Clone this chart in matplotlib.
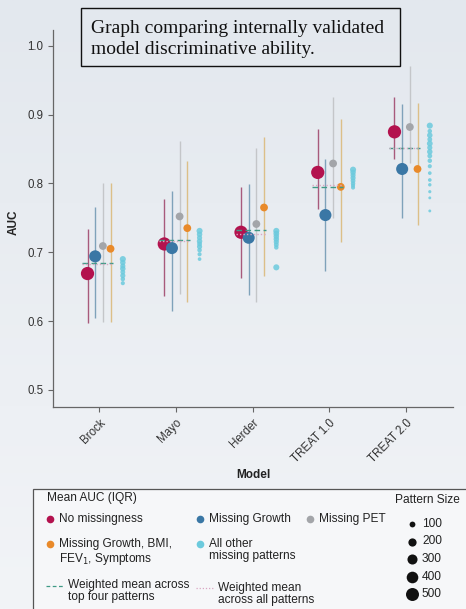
import numpy as np
import matplotlib.pyplot as plt
from matplotlib.patches import Rectangle
from matplotlib.lines import Line2D
from matplotlib.colors import LinearSegmentedColormap

plt.rcParams['font.family'] = ['Liberation Sans', 'DejaVu Sans']

models = ["Brock", "Mayo", "Herder", "TREAT 1.0", "TREAT 2.0"]

# mean AUC and IQR per pattern
no_miss = [0.669, 0.712, 0.729, 0.816, 0.875]
no_miss_lo = [0.597, 0.637, 0.662, 0.763, 0.835]
no_miss_hi = [0.734, 0.778, 0.795, 0.879, 0.925]

growth = [0.694, 0.706, 0.721, 0.754, 0.821]
growth_lo = [0.604, 0.615, 0.638, 0.672, 0.750]
growth_hi = [0.766, 0.789, 0.799, 0.835, 0.915]

pet = [0.709, 0.752, 0.741, 0.829, 0.882]
pet_lo = [0.599, 0.639, 0.628, 0.750, 0.829]
pet_hi = [0.800, 0.862, 0.851, 0.925, 0.970]

gbfs = [0.705, 0.735, 0.765, 0.795, 0.821]
gbfs_lo = [0.599, 0.628, 0.666, 0.715, 0.740]
gbfs_hi = [0.800, 0.833, 0.867, 0.893, 0.917]

# all other missing patterns (small dots)
other = [
    [0.690, 0.685, 0.680, 0.676, 0.671, 0.666, 0.661, 0.655],
    [0.731, 0.726, 0.721, 0.716, 0.712, 0.708, 0.703, 0.697, 0.690],
    [0.731, 0.727, 0.723, 0.719, 0.715, 0.711, 0.707, 0.678],
    [0.820, 0.816, 0.812, 0.808, 0.804, 0.800, 0.797, 0.794],
    [0.884, 0.876, 0.870, 0.864, 0.858, 0.852, 0.846, 0.840, 0.833, 0.825,
     0.815, 0.805, 0.798, 0.788, 0.779, 0.760],
]
other_n = [
    [110, 90, 80, 90, 70, 80, 60, 50],
    [110, 90, 80, 90, 70, 80, 60, 50, 40],
    [110, 100, 90, 90, 80, 70, 60, 110],
    [110, 90, 80, 80, 70, 60, 50, 50],
    [110, 60, 90, 70, 100, 80, 90, 70, 60, 50, 40, 40, 35, 30, 25, 25],
]

n_no_miss = 520
n_growth = 430
n_pet = 180
n_gbfs = 180

wmean_top4 = [0.685, 0.718, 0.732, 0.795, 0.851]
wmean_all = [0.683, 0.717, 0.727, 0.798, 0.851]

size_legend = [100, 200, 300, 400, 500]

c_red = '#b3124e'
c_blue = '#3a77a5'
c_gray = '#a3a5a9'
c_orange = '#e98a2a'
c_cyan = '#6ccadd'

def sc(n):
    return np.array(n) * 0.175

fig = plt.figure(figsize=(4.66, 6.09), dpi=100)

# background gradient
bg = fig.add_axes([0, 0, 1, 1], zorder=-10)
grad = np.linspace(0, 1, 256).reshape(-1, 1)
cmap = LinearSegmentedColormap.from_list('bg', ['#e3e8ee', '#f2f4f7'])
bg.imshow(grad, aspect='auto', cmap=cmap, extent=[0, 1, 0, 1])
bg.axis('off')

ax = fig.add_axes([0.1137, 0.3317, 0.858, 0.619])
ax.patch.set_alpha(0)
x = np.arange(len(models))

series = [
    (no_miss, no_miss_lo, no_miss_hi, n_no_miss, c_red, '#a85a7c', -0.15),
    (growth, growth_lo, growth_hi, n_growth, c_blue, '#7fa2ba', -0.05),
    (pet, pet_lo, pet_hi, n_pet, c_gray, '#c4c6c9', 0.05),
    (gbfs, gbfs_lo, gbfs_hi, n_gbfs, c_orange, '#dcbf88', 0.15),
]
for mean, lo, hi, n, col, wcol, off in series:
    ax.vlines(x + off, lo, hi, color=wcol, lw=1.0, zorder=2)
for mean, lo, hi, n, col, wcol, off in series:
    ax.scatter(x + off, mean, s=sc(n), color=col, edgecolors='none', zorder=4)

for i in range(len(models)):
    ax.scatter(np.full(len(other[i]), x[i] + 0.31), other[i], s=sc(other_n[i]),
               color=c_cyan, edgecolors='none', alpha=0.85, zorder=3)
    ax.hlines(wmean_top4[i], x[i] - 0.22, x[i] + 0.18, color='#3f9a86',
              lw=1.0, linestyles=(0, (4, 2.5)), zorder=5)
    ax.hlines(wmean_all[i], x[i] - 0.22, x[i] + 0.18, color='#d9a6c2',
              lw=1.0, linestyles=(0, (1, 1.5)), zorder=5)

ax.set_xlim(-0.6, 4.61)
ax.set_ylim(0.475, 1.023)
ax.set_yticks([0.5, 0.6, 0.7, 0.8, 0.9, 1.0])
ax.set_yticklabels(['0.5', '0.6', '0.7', '0.8', '0.9', '1.0'])
ax.set_xticks(x)
ax.set_xticklabels(models, rotation=45, ha='right', rotation_mode='anchor')
for s in ['top', 'right']:
    ax.spines[s].set_visible(False)
for s in ['left', 'bottom']:
    ax.spines[s].set_color('#666666')
    ax.spines[s].set_linewidth(0.9)
ax.tick_params(colors='#666666', labelcolor='#333333', labelsize=8.3, length=3.5, width=0.8)
ax.set_ylabel('AUC', fontsize=8.5, fontweight='bold', color='#222222')
ax.yaxis.set_label_coords(-0.082, 0.49)
ax.set_xlabel('Model', fontsize=8.5, fontweight='bold', color='#222222', labelpad=3)

# title box
fig.patches.append(Rectangle((81 / 466, 1 - 66 / 609), 319 / 466, 58 / 609,
                             transform=fig.transFigure, facecolor='none',
                             edgecolor='#111111', lw=1.0))
fig.text(91 / 466, 1 - 39 / 609, 'Graph comparing internally validated\nmodel discriminative ability.',
         family='Liberation Serif', fontsize=14, color='#111111', va='center', linespacing=1.3)

# legend box
fig.patches.append(Rectangle((33 / 466, -0.01), 0.99, 1 - 489 / 609 + 0.01,
                             transform=fig.transFigure, facecolor='#f6f7f9',
                             edgecolor='#555555', lw=0.9, zorder=1))

def fx(px):
    return px / 466

def fy(py):
    return 1 - py / 609

fs = 8.6
fig.text(fx(47), fy(498), 'Mean AUC (IQR)', fontsize=fs, color='#222222', va='center')
items = [
    (50, 519, c_red, 'No missingness'),
    (200, 519, c_blue, 'Missing Growth'),
    (310, 519, c_gray, 'Missing PET'),
    (50, 544, c_orange, 'Missing Growth, BMI,\nFEV$_1$, Symptoms'),
    (200, 544, c_cyan, 'All other\nmissing patterns'),
]
for px, py, col, lab in items:
    fig.add_artist(Line2D([fx(px)], [fy(py)], marker='o', ms=5.5, color=col,
                          markeredgewidth=0, transform=fig.transFigure))
    fig.text(fx(px + 9), fy(py - 6), lab, fontsize=fs, color='#222222', va='top', linespacing=1.05)

fig.add_artist(Line2D([fx(46), fx(64)], [fy(586), fy(586)], color='#3f9a86', lw=0.9,
                      linestyle=(0, (3, 2)), transform=fig.transFigure))
fig.text(fx(68), fy(579), 'Weighted mean across\ntop four patterns', fontsize=fs,
         color='#222222', va='top', linespacing=1.05)
fig.add_artist(Line2D([fx(196), fx(213)], [fy(588), fy(588)], color='#d9a6c2', lw=0.9,
                      linestyle=(0, (1, 1.5)), transform=fig.transFigure))
fig.text(fx(218), fy(582), 'Weighted mean\nacross all patterns', fontsize=fs,
         color='#222222', va='top', linespacing=1.05)

fig.text(fx(427), fy(500), 'Pattern Size', fontsize=fs, color='#222222', ha='center', va='center')
for k, n in enumerate(size_legend):
    py = 524 + k * 17.5
    fig.add_artist(Line2D([fx(412)], [fy(py)], marker='o', ms=np.sqrt(sc(n)), color='#111111',
                          markeredgewidth=0, transform=fig.transFigure))
    fig.text(fx(422), fy(py), str(n), fontsize=fs, color='#222222', va='center')

fig.savefig('out.png', dpi=100)
